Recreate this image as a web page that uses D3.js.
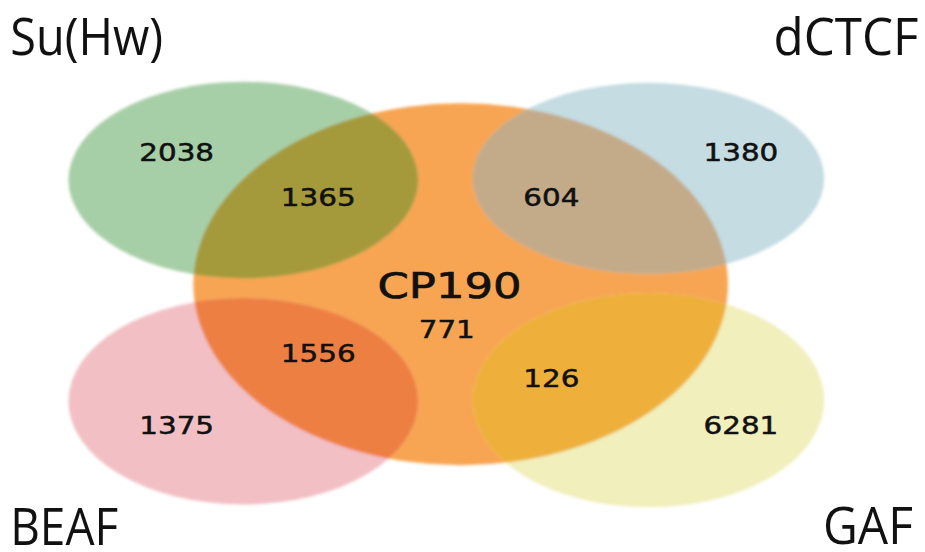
<!DOCTYPE html>
<html>
<head>
<meta charset="utf-8">
<script src="https://cdn.jsdelivr.net/npm/d3@7"></script>
<style>
  html, body { margin: 0; padding: 0; background: #fff; }
  svg { display: block; }
</style>
</head>
<body>
<script>
// CP190 overlap Venn diagram

// data
const centerSet = "CP190";
const centerOnly = 771;
const sets = ["Su(Hw)", "dCTCF", "BEAF", "GAF"];
const onlyCounts = [2038, 1380, 1375, 6281];
const withCP190 = [1365, 604, 1556, 126];

// colours: set alone / set overlapping CP190
const centerColor = "#f7a552";
const aloneColors = ["#a7cfa7", "#c4dce2", "#f2c0c4", "#f1efbc"];
const overlapColors = ["#a59a3b", "#c3ab8a", "#ee7f42", "#eeb03a"];

const W = 925, H = 552;

// layout in a unit box, mapped through scales
const x = d3.scaleLinear().domain([0, 1]).range([0, W]);
const y = d3.scaleLinear().domain([0, 1]).range([0, H]);

const centerShape = {cx: 0.498, cy: 0.515, rx: 0.289, ry: 0.328};
const shapes = [
  {cx: 0.263, cy: 0.326, rx: 0.189, ry: 0.178},
  {cx: 0.701, cy: 0.323, rx: 0.190, ry: 0.173},
  {cx: 0.263, cy: 0.727, rx: 0.189, ry: 0.187},
  {cx: 0.701, cy: 0.725, rx: 0.190, ry: 0.194}
];
// label spots for counts
const onlyPos = [[0.191, 0.277], [0.801, 0.277], [0.191, 0.772], [0.801, 0.772]];
const overlapPos = [[0.344, 0.359], [0.596, 0.359], [0.344, 0.641], [0.596, 0.687]];

const svg = d3.select("body").append("svg")
  .attr("width", W)
  .attr("height", H);

const defs = svg.append("defs");
defs.append("filter")
    .attr("id", "soft")
    .attr("x", "-10%").attr("y", "-10%")
    .attr("width", "120%").attr("height", "120%")
  .append("feGaussianBlur")
    .attr("stdDeviation", 1.6);

defs.append("clipPath")
    .attr("id", "cpclip")
  .append("ellipse")
    .attr("cx", x(centerShape.cx))
    .attr("cy", y(centerShape.cy))
    .attr("rx", x(centerShape.rx))
    .attr("ry", y(centerShape.ry));

const g = svg.append("g").attr("filter", "url(#soft)");

g.append("ellipse")
    .attr("cx", x(centerShape.cx))
    .attr("cy", y(centerShape.cy))
    .attr("rx", x(centerShape.rx))
    .attr("ry", y(centerShape.ry))
    .attr("fill", centerColor);

g.selectAll("ellipse.alone")
  .data(shapes)
  .join("ellipse")
    .attr("class", "alone")
    .attr("cx", d => x(d.cx))
    .attr("cy", d => y(d.cy))
    .attr("rx", d => x(d.rx))
    .attr("ry", d => y(d.ry))
    .attr("fill", (d, i) => aloneColors[i]);

g.append("g")
    .attr("clip-path", "url(#cpclip)")
  .selectAll("ellipse")
  .data(shapes)
  .join("ellipse")
    .attr("cx", d => x(d.cx))
    .attr("cy", d => y(d.cy))
    .attr("rx", d => x(d.rx))
    .attr("ry", d => y(d.ry))
    .attr("fill", (d, i) => overlapColors[i]);

// counts
const numFont = "'DejaVu Sans', Verdana, sans-serif";
function countText(val, p) {
  const s = String(val);
  svg.append("text")
    .attr("x", x(p[0]))
    .attr("y", y(p[1]))
    .attr("text-anchor", "middle")
    .attr("dominant-baseline", "central")
    .attr("font-family", numFont)
    .attr("font-size", 24)
    .attr("fill", "#111")
    .attr("stroke", "#111")
    .attr("stroke-width", 0.5)
    .attr("textLength", s.length * 18.7)
    .attr("lengthAdjust", "spacingAndGlyphs")
    .text(s);
}
onlyCounts.forEach((v, i) => countText(v, onlyPos[i]));
withCP190.forEach((v, i) => countText(v, overlapPos[i]));
countText(centerOnly, [0.483, 0.598]);

svg.append("text")
    .attr("x", x(0.486))
    .attr("y", y(0.518))
    .attr("text-anchor", "middle")
    .attr("dominant-baseline", "central")
    .attr("font-family", numFont)
    .attr("font-size", 36)
    .attr("fill", "#111")
    .attr("stroke", "#111")
    .attr("stroke-width", 0.7)
    .attr("textLength", 144)
    .attr("lengthAdjust", "spacingAndGlyphs")
    .text(centerSet);

// set names in the corners
const cornerPos = [
  {x: 0.011, y: 0.100, anchor: "start", w: 153},
  {x: 0.993, y: 0.100, anchor: "end", w: 145},
  {x: 0.011, y: 0.988, anchor: "start", w: 108},
  {x: 0.987, y: 0.986, anchor: "end", w: 90}
];
svg.selectAll("text.setname")
  .data(sets)
  .join("text")
    .attr("class", "setname")
    .attr("x", (d, i) => x(cornerPos[i].x))
    .attr("y", (d, i) => y(cornerPos[i].y))
    .attr("text-anchor", (d, i) => cornerPos[i].anchor)
    .attr("font-family", "'Open Sans', sans-serif")
    .attr("font-size", 51)
    .attr("fill", "#111")
    .attr("textLength", (d, i) => cornerPos[i].w)
    .attr("lengthAdjust", "spacingAndGlyphs")
    .text(d => d);
</script>
</body>
</html>
